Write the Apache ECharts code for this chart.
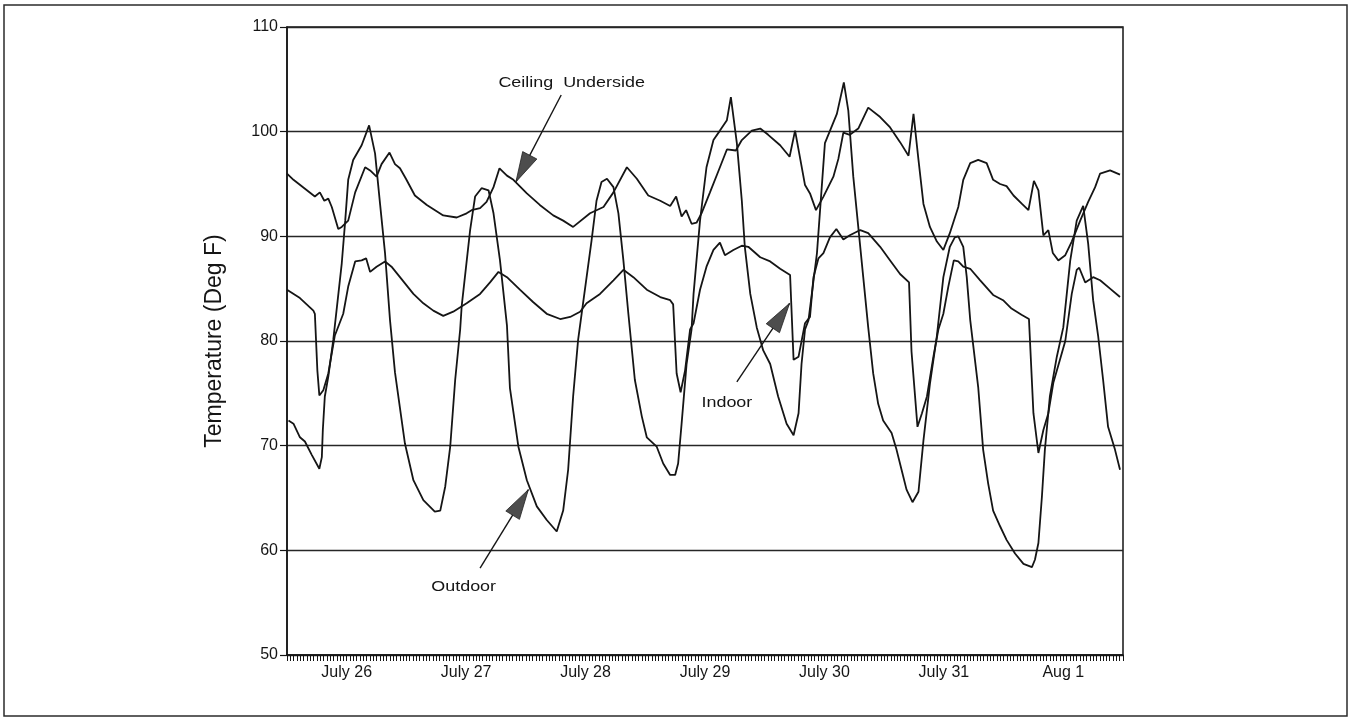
<!DOCTYPE html>
<html>
<head>
<meta charset="utf-8">
<script src="https://cdn.jsdelivr.net/npm/echarts@6/dist/echarts.min.js"></script>
<style>
  html, body { margin: 0; padding: 0; background: #fff; }
  #chart { width: 1351px; height: 720px; }
</style>
</head>
<body>
<div id="chart"></div>
<script>
// Hours since the start of July 26; day labels sit at noon of each day.
const dayLabels = ['July 26', 'July 27', 'July 28', 'July 29', 'July 30', 'July 31', 'Aug 1'];
const yTicks = { min: 50, max: 110, step: 10 };

// [hour, degrees F]
const outdoor = [
  [0.3, 72.4], [1.3, 72.1], [2.6, 70.8], [3.6, 70.4], [5.0, 69.1], [6.5, 67.8], [7.0, 68.9],
  [7.2, 71.5], [7.6, 74.7], [8.3, 76.6], [9.3, 80.1], [11.0, 87.4], [11.7, 91.5], [12.3, 95.4],
  [13.3, 97.3], [15.0, 98.7], [16.5, 100.6], [17.7, 97.9], [18.7, 93.1], [19.7, 88.4], [20.7, 82.0],
  [21.7, 77.0], [23.7, 70.2], [25.4, 66.7], [27.4, 64.8], [29.7, 63.7], [30.8, 63.8], [31.8, 66.1],
  [32.8, 69.9], [33.8, 76.3], [34.8, 81.1], [35.1, 83.3], [36.8, 90.6], [37.8, 93.8], [39.1, 94.6],
  [40.5, 94.4], [41.5, 92.2], [42.8, 87.7], [44.2, 81.5], [44.8, 75.5], [46.5, 69.9], [48.2, 66.7],
  [50.2, 64.2], [52.2, 62.9], [54.2, 61.8], [55.5, 63.8], [56.5, 67.7], [57.5, 74.7], [58.5, 80.1],
  [61.2, 89.6], [62.2, 93.4], [63.2, 95.2], [64.3, 95.5], [65.6, 94.7], [66.6, 92.2], [67.6, 87.7],
  [68.6, 82.6], [69.9, 76.3], [71.3, 72.8], [72.3, 70.8], [74.3, 69.9], [75.6, 68.3], [77.0, 67.2],
  [78.0, 67.2], [78.6, 68.3], [79.3, 72.1], [80.3, 77.8], [81.3, 81.1], [81.7, 84.5], [83.0, 91.5],
  [84.3, 96.6], [85.7, 99.2], [87.0, 100.1], [88.4, 101.1], [89.2, 103.3], [90.4, 98.9], [91.4, 93.4],
  [92.0, 89.0], [93.1, 84.5], [94.4, 81.3], [95.7, 79.1], [97.1, 77.8], [98.7, 74.7], [100.4, 72.1],
  [101.8, 71.0], [102.8, 73.1], [103.4, 77.8], [104.1, 81.1], [104.8, 82.0], [106.5, 88.4],
  [108.1, 98.9], [110.5, 101.7], [111.9, 104.7], [112.8, 102.0], [113.8, 95.7], [114.8, 90.9],
  [115.8, 86.1], [116.8, 81.3], [117.8, 76.9], [118.8, 74.0], [119.8, 72.4], [121.5, 71.2],
  [122.5, 69.6], [123.5, 67.7], [124.5, 65.8], [125.7, 64.6], [126.9, 65.6], [127.9, 70.5],
  [129.2, 75.9], [130.6, 80.5], [131.9, 86.1], [133.2, 89.0], [134.2, 89.9], [134.9, 90.0],
  [135.9, 89.0], [136.6, 86.1], [137.3, 82.0], [138.9, 75.6], [139.9, 69.6], [140.9, 66.4],
  [141.9, 63.8], [143.3, 62.3], [144.6, 61.0], [146.3, 59.7], [148.0, 58.7], [149.7, 58.4],
  [150.3, 59.1], [151.0, 60.7], [151.7, 65.1], [152.3, 69.6], [153.3, 74.7], [154.7, 78.5],
  [156.0, 81.3], [157.4, 87.7], [158.7, 91.5], [160.0, 92.9], [161.0, 89.3], [162.0, 83.9],
  [163.0, 80.5], [164.0, 76.3], [165.0, 71.8], [166.4, 69.6], [167.4, 67.7]
];

const ceiling = [
  [0.0, 96.0], [1.3, 95.4], [5.6, 93.8], [6.6, 94.2], [7.5, 93.4], [8.3, 93.6], [9.0, 92.8],
  [10.3, 90.7], [11.0, 90.9], [12.3, 91.5], [13.7, 94.2], [15.7, 96.6], [16.7, 96.3], [18.0, 95.7],
  [19.0, 96.9], [20.6, 98.0], [21.7, 96.9], [22.7, 96.5], [23.9, 95.5], [25.7, 93.9], [28.1, 93.0],
  [31.4, 92.0], [34.1, 91.8], [36.1, 92.2], [37.1, 92.5], [38.8, 92.7], [40.1, 93.3], [41.5, 94.7],
  [42.7, 96.5], [44.2, 95.8], [45.5, 95.4], [48.2, 94.1], [50.8, 93.0], [53.5, 92.0], [55.5, 91.5],
  [57.5, 90.9], [60.9, 92.2], [63.6, 92.8], [65.6, 94.2], [68.3, 96.6], [70.3, 95.5], [72.6, 93.9],
  [75.0, 93.4], [77.0, 92.9], [78.2, 93.8], [79.3, 91.9], [80.2, 92.5], [81.3, 91.2], [82.3, 91.3],
  [83.3, 92.2], [85.0, 94.2], [87.0, 96.6], [88.4, 98.3], [90.2, 98.2], [91.4, 99.2], [93.4, 100.1],
  [95.1, 100.3], [96.7, 99.7], [99.1, 98.7], [101.0, 97.6], [102.1, 100.1], [104.1, 94.9],
  [105.1, 94.1], [106.3, 92.5], [107.8, 93.8], [109.8, 95.7], [110.8, 97.4], [111.8, 99.9],
  [113.1, 99.7], [114.8, 100.3], [116.8, 102.3], [119.2, 101.4], [121.2, 100.4], [123.2, 99.0],
  [124.9, 97.7], [125.9, 101.7], [126.9, 97.3], [127.9, 93.1], [129.2, 90.9], [130.6, 89.5],
  [131.9, 88.7], [133.2, 90.3], [134.9, 92.8], [135.9, 95.4], [137.3, 97.0], [138.9, 97.3],
  [140.6, 97.0], [141.9, 95.4], [143.3, 95.0], [144.6, 94.8], [146.0, 93.9], [147.7, 93.1],
  [149.0, 92.5], [150.1, 95.3], [151.0, 94.4], [152.0, 90.1], [153.0, 90.6], [153.9, 88.4],
  [155.0, 87.7], [156.4, 88.2], [157.7, 89.5], [159.4, 91.5], [161.0, 93.3], [162.4, 94.7],
  [163.4, 96.0], [165.4, 96.3], [167.4, 95.9]
];

const indoor = [
  [0.0, 84.9], [2.6, 84.1], [5.3, 82.9], [5.6, 82.6], [6.1, 77.2], [6.5, 74.8], [7.3, 75.3],
  [8.3, 76.9], [9.6, 80.5], [11.3, 82.6], [12.3, 85.2], [13.7, 87.6], [15.0, 87.7], [15.9, 87.9],
  [16.7, 86.6], [18.0, 87.1], [19.7, 87.6], [21.0, 87.1], [22.7, 86.1], [25.4, 84.5], [27.4, 83.6],
  [29.4, 82.9], [31.4, 82.4], [33.4, 82.8], [36.1, 83.6], [38.8, 84.5], [40.8, 85.6], [42.5, 86.6],
  [44.2, 86.1], [46.8, 84.9], [49.5, 83.7], [52.2, 82.6], [54.9, 82.1], [56.9, 82.3], [58.9, 82.8],
  [60.2, 83.6], [62.9, 84.5], [65.6, 85.8], [67.6, 86.8], [69.6, 86.1], [72.3, 84.9], [75.0, 84.2],
  [77.0, 83.9], [77.6, 83.5], [78.3, 76.9], [79.1, 75.1], [80.0, 77.2], [81.0, 81.1], [81.7, 81.7],
  [83.0, 84.9], [84.3, 87.1], [85.7, 88.7], [87.0, 89.4], [88.0, 88.2], [89.7, 88.7], [91.4, 89.1],
  [92.7, 89.0], [95.1, 88.0], [97.1, 87.6], [99.1, 86.9], [101.1, 86.3], [101.8, 78.2], [102.8, 78.5],
  [104.1, 81.7], [105.1, 82.3], [105.8, 86.1], [106.8, 87.9], [107.8, 88.4], [109.1, 89.9],
  [110.4, 90.7], [111.8, 89.7], [113.1, 90.1], [115.2, 90.6], [116.8, 90.3], [119.2, 89.0],
  [121.2, 87.7], [123.2, 86.4], [125.0, 85.6], [125.5, 79.0], [126.7, 71.8], [127.6, 73.1],
  [128.6, 74.7], [129.9, 78.5], [130.9, 81.1], [131.9, 82.6], [132.9, 85.2], [134.0, 87.7],
  [134.9, 87.6], [135.9, 87.1], [137.3, 86.9], [139.3, 85.8], [141.9, 84.4], [143.9, 83.9],
  [145.6, 83.1], [147.6, 82.5], [149.1, 82.1], [150.0, 73.1], [151.0, 69.3], [152.0, 71.5],
  [153.0, 73.1], [154.0, 76.0], [155.5, 78.5], [156.4, 80.0], [157.7, 84.5], [158.7, 86.8],
  [159.2, 87.0], [160.4, 85.6], [162.0, 86.1], [163.4, 85.8], [165.4, 85.0], [167.4, 84.2]
];

// Callouts: label position, arrow tail and arrow tip, all in data units.
const callouts = [
  { text: 'Ceiling  Underside', at: [57.2, 104.6], tail: [55.1, 103.5], tip: [46.0, 95.2] },
  { text: 'Indoor', at: [88.4, 74.1], tail: [90.4, 76.1], tip: [101.0, 83.6] },
  { text: 'Outdoor', at: [35.5, 56.5], tail: [38.8, 58.3], tip: [48.5, 65.8] }
];

const INK = '#151515';
const FONT = '"Liberation Sans", Arial, Helvetica, sans-serif';

const chart = echarts.init(document.getElementById('chart'), null, { renderer: 'canvas' });

function lineSeries(name, data) {
  return {
    name, type: 'line', data,
    showSymbol: false, symbol: 'none', smooth: false,
    lineStyle: { color: INK, width: 1.8 },
    z: 3
  };
}

chart.setOption({
  animation: false,
  backgroundColor: '#fff',
  grid: {
    left: 287, right: 228, top: 27, bottom: 65,
    show: true, borderColor: INK, borderWidth: 1.5, backgroundColor: 'transparent'
  },
  xAxis: {
    type: 'value', min: 0, max: 168, interval: 12,
    axisLine: { show: true, lineStyle: { color: INK, width: 1.5 } },
    axisTick: { show: true, length: 6, lineStyle: { color: INK, width: 1 } },
    minorTick: { show: true, splitNumber: 18, length: 6, lineStyle: { color: INK, width: 1 } },
    splitLine: { show: false },
    minorSplitLine: { show: false },
    axisLabel: {
      margin: 10, color: INK, fontSize: 16, fontFamily: FONT,
      formatter: v => (v % 24 === 12 ? dayLabels[(v - 12) / 24] : '')
    }
  },
  yAxis: {
    type: 'value', min: yTicks.min, max: yTicks.max, interval: yTicks.step,
    name: 'Temperature (Deg F)', nameLocation: 'middle', nameGap: 61,
    nameTextStyle: { color: INK, fontSize: 23, fontFamily: FONT },
    axisLine: { show: true, lineStyle: { color: INK, width: 1.5 } },
    axisTick: { show: true, length: 7, lineStyle: { color: INK, width: 1.2 } },
    axisLabel: { margin: 9, color: INK, fontSize: 16, fontFamily: FONT },
    splitLine: { show: true, lineStyle: { color: '#262626', width: 1.4 } }
  },
  series: [
    lineSeries('Outdoor', outdoor),
    lineSeries('Ceiling Underside', ceiling),
    lineSeries('Indoor', indoor)
  ]
});

// Callout arrows and labels, placed through the chart's own coordinate conversion.
function arrowHead(tip, tail, len, half) {
  const dx = tip[0] - tail[0], dy = tip[1] - tail[1];
  const d = Math.hypot(dx, dy) || 1;
  const ux = dx / d, uy = dy / d;
  const bx = tip[0] - ux * len, by = tip[1] - uy * len;
  return [tip, [bx - uy * half, by + ux * half], [bx + uy * half, by - ux * half]];
}

const toPx = p => chart.convertToPixel({ gridIndex: 0 }, p);
const graphics = [
  {
    type: 'rect', silent: true, z: 0,
    shape: { x: 4, y: 5, width: 1343, height: 711 },
    style: { fill: 'none', stroke: '#2b2b2b', lineWidth: 1.5 }
  }
];
callouts.forEach(c => {
  const at = toPx(c.at), tail = toPx(c.tail), tip = toPx(c.tip);
  graphics.push({
    type: 'line', silent: true, z: 10,
    shape: { x1: tail[0], y1: tail[1], x2: tip[0], y2: tip[1] },
    style: { stroke: INK, lineWidth: 1.4 }
  });
  graphics.push({
    type: 'polygon', silent: true, z: 11,
    shape: { points: arrowHead(tip, tail, 30, 8) },
    style: { fill: '#4d4d4d', stroke: '#222', lineWidth: 0.8 }
  });
  graphics.push({
    type: 'text', silent: true, z: 12,
    x: at[0], y: at[1], scaleX: 1.28,
    style: {
      text: c.text, x: 0, y: 0, fill: INK,
      font: '14px ' + FONT, align: 'center', verticalAlign: 'middle'
    }
  });
});
chart.setOption({ graphic: graphics });
</script>
</body>
</html>
